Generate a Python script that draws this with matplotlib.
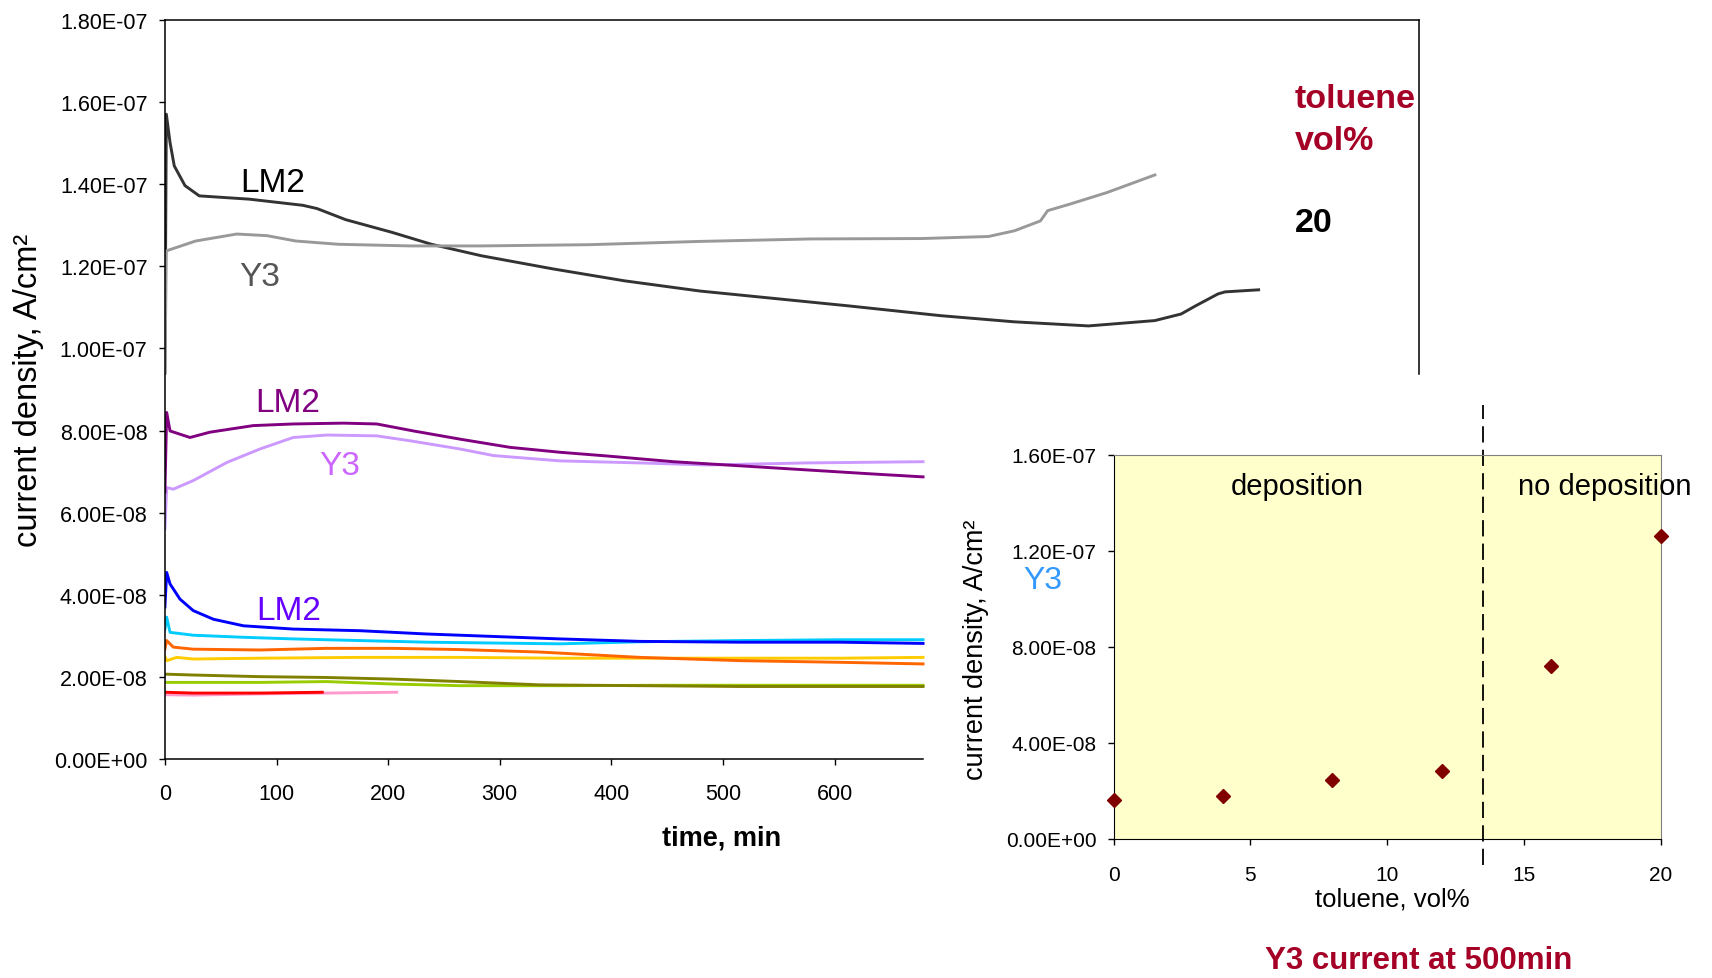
import numpy as np
import matplotlib
matplotlib.use("Agg")
import matplotlib.pyplot as plt
from matplotlib.ticker import FuncFormatter

plt.rcParams['font.family'] = ['Liberation Sans', 'DejaVu Sans']

# ---------------- data (current density in 1e-9 A/cm2, time in min) ----------------
t_lm2_20 = [0, 1.3, 4.6, 8.4, 18, 30.8, 75.6, 123.6, 136.4, 162, 203.6, 238.8, 283.6, 347.7, 411.6,
            479.5, 545.8, 612, 695, 761, 827.6, 887, 910.5, 923.6, 943.6, 950, 980]
j_lm2_20 = [94, 157.1, 150.2, 144.5, 139.7, 137.2, 136.4, 134.9, 134.1, 131.4, 128.3, 125.4, 122.6, 119.4, 116.5,
            114.0, 112.2, 110.4, 108.0, 106.5, 105.5, 106.8, 108.4, 110.4, 113.3, 113.8, 114.3]

t_y3_20 = [0, 1.3, 27.6, 64.4, 91.5, 117.2, 155.6, 219.6, 283.6, 379.6, 479.5, 579, 678, 738,
           761.3, 784.5, 791, 811, 844, 887]
j_y3_20 = [94, 123.8, 126.2, 127.9, 127.5, 126.2, 125.4, 125.0, 125.0, 125.3, 126.1, 126.7, 126.8, 127.3,
           128.7, 131.1, 133.6, 135.2, 138.0, 142.3]

t_lm2_16 = [0, 1.6, 4.6, 22.5, 40.4, 79.2, 115, 159.9, 189.8, 222.6, 264.4, 309.2, 354, 395.9,
            455.6, 515.3, 575, 634.8, 679.3]
j_lm2_16 = [65, 84.4, 79.9, 78.3, 79.6, 81.2, 81.6, 81.8, 81.6, 79.9, 77.9, 75.9, 74.7, 73.8,
            72.4, 71.4, 70.4, 69.4, 68.7]

t_y3_16 = [0, 1.6, 7.5, 25.4, 55.4, 85.2, 115, 145, 189.8, 219.6, 264.4, 294.3, 354, 425.7,
           485.5, 575, 679.3]
j_y3_16 = [56, 66.1, 65.7, 67.8, 72.2, 75.5, 78.3, 78.9, 78.7, 77.5, 75.5, 73.9, 72.6, 72.1,
           71.6, 72.1, 72.4]

t_blue = [0, 1.6, 4.6, 13.5, 25.4, 43.4, 70.3, 115, 174.8, 234.6, 294.3, 354, 425.7, 515.3, 604.9, 679.3]
j_blue = [37, 45.4, 42.6, 38.9, 36.1, 34.0, 32.4, 31.6, 31.2, 30.4, 29.8, 29.2, 28.6, 28.4, 28.4, 28.1]

t_cyan = [0, 1.6, 4.6, 25.4, 70.3, 115, 174.8, 234.6, 354, 425.7, 515.3, 605, 679.3]
j_cyan = [31.6, 34.5, 30.8, 30.1, 29.6, 29.2, 28.8, 28.4, 28.0, 28.5, 28.8, 29.0, 29.0]

t_orange = [0, 1.6, 7.5, 25.4, 85.2, 145, 204.7, 264.4, 336, 425.7, 515.3, 605, 679.3]
j_orange = [26.7, 28.8, 27.2, 26.7, 26.5, 26.9, 26.9, 26.6, 26.0, 24.7, 23.9, 23.5, 23.1]

t_yellow = [0, 1.6, 10.6, 25.4, 85.2, 174.8, 264.4, 354, 440, 540, 605, 679.3]
j_yellow = [24.9, 23.9, 24.7, 24.3, 24.5, 24.7, 24.7, 24.5, 24.5, 24.5, 24.5, 24.7]

t_green = [0, 25.4, 85.2, 145, 204.7, 264.4, 354, 450, 550, 679.3]
j_green = [18.6, 18.6, 18.6, 18.8, 18.2, 17.8, 17.8, 17.9, 17.9, 17.9]

t_olive = [0, 1.6, 25.4, 85.2, 145, 204.7, 264.4, 336, 425.7, 515.3, 605, 679.3]
j_olive = [20.6, 20.6, 20.4, 20.0, 19.8, 19.4, 18.8, 18.0, 17.8, 17.6, 17.6, 17.6]

t_pink = [0, 25.4, 85.2, 145, 207.7]
j_pink = [15.6, 15.5, 15.8, 16.0, 16.2]

t_red = [0, 25.4, 85.2, 141]
j_red = [16.2, 16.0, 16.0, 16.2]

toluene = [0, 4, 8, 12, 16, 20]
current_500 = [1.62e-8, 1.81e-8, 2.45e-8, 2.83e-8, 7.2e-8, 1.263e-7]

main_xticks = [0, 100, 200, 300, 400, 500, 600]
main_yticks = np.linspace(0, 1.8e-7, 10)
inset_xticks = [0, 5, 10, 15, 20]
inset_yticks = np.linspace(0, 1.6e-7, 5)

# ---------------- figure ----------------
W, H = 1712, 979
fig = plt.figure(figsize=(W / 100, H / 100), dpi=100)


def fx(px):
    return px / W


def fy(py):
    return 1 - py / H


sci = FuncFormatter(lambda v, p: f"{v:.2E}")

ax = fig.add_axes([fx(164.9), fy(759.7), (1419 - 164.9) / W, (759.7 - 21.3) / H])
ax.set_xlim(0, 1123.7)
ax.set_ylim(0, 1.8e-7)

series = [
    (t_lm2_20, j_lm2_20, '#333333'),
    (t_y3_20, j_y3_20, '#999999'),
    (t_y3_16, j_y3_16, '#CC99FF'),
    (t_lm2_16, j_lm2_16, '#800080'),
    (t_yellow, j_yellow, '#FFCC00'),
    (t_orange, j_orange, '#FF6600'),
    (t_cyan, j_cyan, '#00CCFF'),
    (t_blue, j_blue, '#0000FF'),
    (t_green, j_green, '#99CC00'),
    (t_olive, j_olive, '#808000'),
    (t_pink, j_pink, '#FF99CC'),
    (t_red, j_red, '#FF0000'),
]
for t, j, c in series:
    ax.plot(t, np.array(j) * 1e-9, color=c, lw=2.1, solid_joinstyle='round')

ax.spines['bottom'].set_bounds(0, 679)
ax.spines['right'].set_bounds(9.39e-8, 1.8e-7)
for s in ax.spines.values():
    s.set_linewidth(1.1)
    s.set_color('black')
ax.set_xticks(main_xticks)
ax.set_yticks(main_yticks)
ax.yaxis.set_major_formatter(sci)
ax.tick_params(axis='both', direction='out', length=4.5, width=1, labelsize=15.5)
ax.tick_params(axis='y', pad=8)
ax.tick_params(axis='x', pad=13)

# curve labels
fig.text(fx(272.5), fy(183), 'LM2', color='black', fontsize=24, ha='center', va='center')
fig.text(fx(260), fy(277.5), 'Y3', color='#555555', fontsize=24, ha='center', va='center')
fig.text(fx(288), fy(403), 'LM2', color='#800080', fontsize=24, ha='center', va='center')
fig.text(fx(340), fy(467), 'Y3', color='#CC66FF', fontsize=24, ha='center', va='center')
fig.text(fx(289), fy(611), 'LM2', color='#6600FF', fontsize=24, ha='center', va='center')

fig.text(fx(29), fy(390), 'current density, A/cm²', rotation=90, fontsize=23.5,
         ha='center', va='center')
fig.text(fx(721.7), fy(838), 'time, min', fontsize=19.5, fontweight='bold',
         ha='center', va='center')

fig.text(fx(1295), fy(99), 'toluene', color='#A50026', fontsize=24.5, fontweight='bold',
         ha='left', va='center')
fig.text(fx(1295), fy(141), 'vol%', color='#A50026', fontsize=24.5, fontweight='bold',
         ha='left', va='center')
fig.text(fx(1295), fy(224), '20', color='black', fontsize=24.5, fontweight='bold',
         ha='left', va='center')

# ---------------- inset ----------------
ax2 = fig.add_axes([fx(1113.7), fy(840), (1660.5 - 1113.7) / W, 384 / H])
ax2.set_facecolor('#FFFFCC')
ax2.set_xlim(0, 20)
ax2.set_ylim(0, 1.6e-7)
ax2.plot(toluene, current_500, linestyle='none', marker='D', markersize=7,
         color='#800000', clip_on=False, zorder=5)
ax2.axvline(13.5, ymin=-0.068, ymax=1.13, clip_on=False, color='black', lw=1.3,
            dashes=(9, 4))
ax2.set_xticks(inset_xticks)
ax2.set_yticks(inset_yticks)
ax2.yaxis.set_major_formatter(sci)
ax2.tick_params(axis='both', direction='out', length=4.5, width=1, labelsize=15)
ax2.tick_params(axis='y', pad=8)
ax2.tick_params(axis='x', pad=14)
ax2.spines['left'].set_color('black')
ax2.spines['bottom'].set_color('black')
ax2.spines['top'].set_color('#808080')
ax2.spines['right'].set_color('#808080')

fig.text(fx(1297), fy(487), 'deposition', fontsize=21, ha='center', va='center')
fig.text(fx(1605), fy(487), 'no deposition', fontsize=21, ha='center', va='center')
fig.text(fx(1043), fy(581), 'Y3', color='#3399FF', fontsize=23, ha='center', va='center')
fig.text(fx(976), fy(650), 'current density, A/cm²', rotation=90, fontsize=19.5,
         ha='center', va='center')
fig.text(fx(1392), fy(899), 'toluene, vol%', fontsize=18.5, ha='center', va='center')
fig.text(fx(1419), fy(961), 'Y3 current at 500min', color='#A50026', fontsize=22.5,
         fontweight='bold', ha='center', va='center')

fig.savefig('out.png', dpi=100, facecolor='white')
